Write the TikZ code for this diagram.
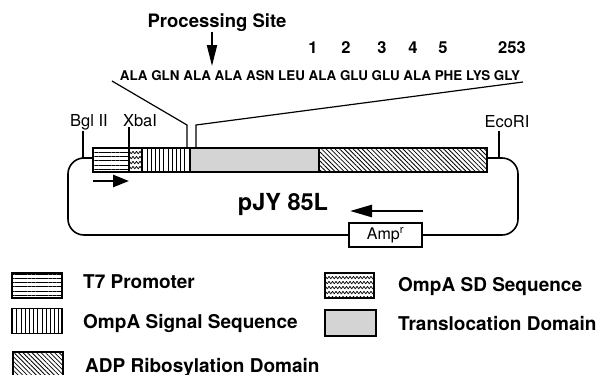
\documentclass[tikz,border=0pt]{standalone}
\usepackage{fontspec}
\setmainfont{TeX Gyre Heros}
\usetikzlibrary{patterns,patterns.meta,arrows.meta,calc}

% wavy fill for the Shine-Dalgarno segment
\pgfdeclarepatternformonly{sdwaves}{\pgfpoint{-1pt}{-1pt}}{\pgfpoint{8pt}{6pt}}{\pgfpoint{7pt}{5pt}}{%
  \pgfsetlinewidth{0.7pt}%
  \pgfsetroundjoin
  \pgfpathmoveto{\pgfpoint{0pt}{3.6pt}}%
  \pgfpathlineto{\pgfpoint{1.75pt}{1.2pt}}%
  \pgfpathlineto{\pgfpoint{3.5pt}{3.6pt}}%
  \pgfpathlineto{\pgfpoint{5.25pt}{1.2pt}}%
  \pgfpathlineto{\pgfpoint{7pt}{3.6pt}}%
  \pgfusepath{stroke}%
}

\tikzset{
  segbox/.style={draw, line width=1.1pt, inner sep=0pt, outer sep=0pt,
    minimum height=24pt, anchor=west},
  legbox/.style={draw, line width=1.1pt, inner sep=0pt, outer sep=0pt,
    minimum width=50pt, minimum height=25pt},
  hlines/.style={pattern={Lines[angle=0,distance=4.2pt,line width=0.7pt]}},
  vlines/.style={pattern={Lines[angle=90,distance=4.2pt,line width=0.7pt]}},
  dlines/.style={pattern={Lines[angle=-45,distance=3.2pt,line width=0.8pt]}},
  waves/.style={pattern=sdwaves},
  stipple/.style={fill=black!17},
  leglabel/.style={font=\bfseries\fontsize{19}{21}\selectfont, anchor=base west, inner sep=0pt},
  sitelabel/.style={font=\fontsize{16.5}{18}\selectfont, anchor=base, inner sep=0pt},
  numlabel/.style={font=\bfseries\fontsize{16.5}{18}\selectfont, anchor=base, inner sep=0pt},
  thinline/.style={line width=1.2pt},
  loopline/.style={line width=1.6pt, rounded corners=16pt},
  fatarrow/.style={line width=2.6pt, -{Triangle[length=16pt,width=12pt]}},
}

\begin{document}
\begin{tikzpicture}[x=1pt,y=-1pt]
\useasboundingbox (0,0) rectangle (600,375);

% processing site marker
\node[font=\bfseries\fontsize{18.5}{20}\selectfont, anchor=base, inner sep=0pt] (proc) at (217,27) {Processing Site};
\coordinate (procTip) at (212,66);
\draw[line width=2pt, -{Triangle[length=21pt,width=10pt]}] (proc.south -| procTip) ++(0,1) -- (procTip);

% residue numbering
\foreach \n/\x in {1/313, 2/346, 3/382, 4/413, 5/443, 253/512}
  \node[numlabel] (num\n) at (\x,53) {\n};

% amino-acid sequence around the cleavage site
\node[font=\bfseries\fontsize{13.4}{15}\selectfont, anchor=base, inner sep=0pt] (seq) at (320,80)
  {ALA GLN ALA ALA ASN LEU ALA GLU GLU ALA PHE LYS GLY};
\coordinate (seqL) at (112,81);
\coordinate (seqR) at (523,82);

% gene fusion bar
\node[segbox, minimum width=36pt, hlines] (t7) at (93,160) {};
\node[segbox, minimum width=13pt, waves] (sd) at (t7.east) {};
\node[segbox, minimum width=48pt, vlines] (sig) at (sd.east) {};
\node[segbox, minimum width=129pt, stipple] (trans) at (sig.east) {};
\node[segbox, minimum width=168pt, dlines] (adp) at (trans.east) {};

% expansion lines to the sequence
\coordinate (cutL) at (187,148);
\coordinate (cutR) at (196,148);
\draw[thinline] (seqL) -- (187,125) -- (cutL);
\draw[thinline] (cutR) -- (196,125) -- (seqR);

% plasmid backbone
\node[draw, line width=1.1pt, minimum width=73pt, minimum height=24pt, inner sep=0pt,
  font=\fontsize{16}{18}\selectfont] (amp) at (385.5,235) {Amp\textsuperscript{r}};
\draw[loopline] ([yshift=2pt]t7.west) -- (68,158) -- (68,235) -- (amp.west);
\draw[loopline] ([yshift=2pt]adp.east) -- (518,158) -- (518,235) -- (amp.east);

% restriction sites
\node[sitelabel] (bgl) at (89,126) {Bgl II};
\node[sitelabel] (xba) at (140,126) {XbaI};
\node[sitelabel] (eco) at (507,127) {EcoRI};
\coordinate (bglFoot) at (83,158);
\coordinate (ecoFoot) at (499,158);
\draw[thinline] (bglFoot |- bgl.south) ++(0,1) -- (bglFoot);
\draw[thinline] (t7.north east |- xba.south) ++(0,1) -- (t7.north east);
\draw[thinline] (ecoFoot |- eco.south) ++(0,4) -- (ecoFoot);

% transcription directions
\coordinate (pA) at (93,181);
\coordinate (pB) at (129,181);
\coordinate (aA) at (423,211);
\coordinate (aB) at (350,211);
\draw[fatarrow] (pA) -- (pB);
\draw[fatarrow, -{Triangle[length=22pt,width=12pt]}] (aA) -- (aB);

% plasmid name
\node[font=\bfseries\fontsize{23.5}{25}\selectfont, anchor=base, inner sep=0pt] (pname) at (283,210) {pJY 85L};

% legend
\node[legbox, hlines] (kT7) at (37,285.5) {};
\node[leglabel] (lT7) at (83,288) {T7 Promoter};
\node[legbox, vlines] (kSig) at (37,321) {};
\node[leglabel] (lSig) at (83,328) {OmpA Signal Sequence};
\node[legbox, dlines] (kAdp) at (38,364.5) {};
\node[leglabel] (lAdp) at (85,372) {ADP Ribosylation Domain};
\node[legbox, waves, minimum width=49pt] (kSd) at (349.5,285.5) {};
\node[leglabel] (lSd) at (398,291) {OmpA SD Sequence};
\node[legbox, stipple, minimum width=51pt, minimum height=26pt] (kTr) at (350.5,323) {};
\node[leglabel] (lTr) at (398,330) {Translocation Domain};
\end{tikzpicture}
\end{document}
